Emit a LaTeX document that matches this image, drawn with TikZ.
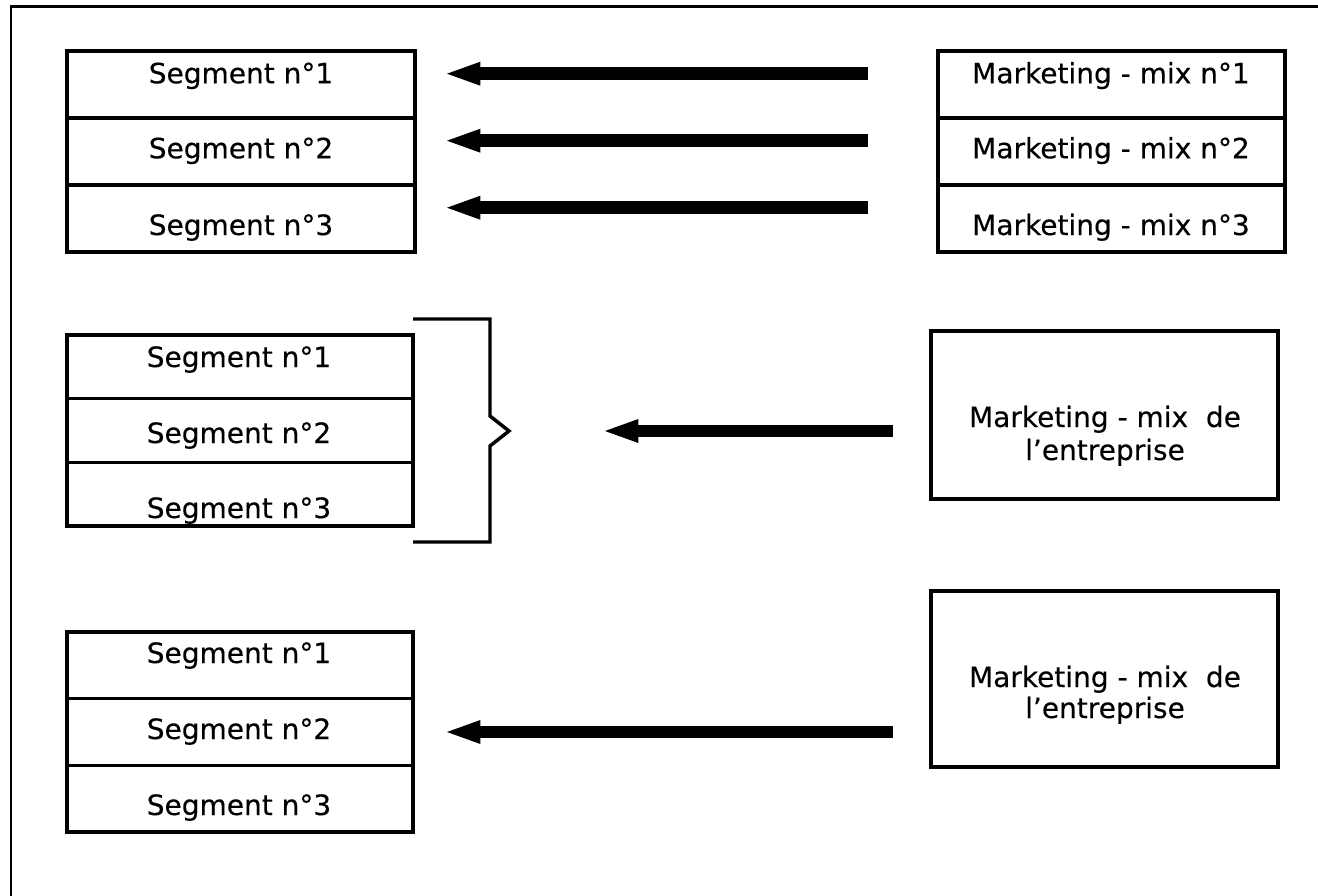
\documentclass[tikz,border=0pt]{standalone}
\usepackage{fontspec}
\setmainfont{DejaVu Sans}[FakeBold=0.3]
\usetikzlibrary{arrows.meta,calc}
\begin{document}
\begin{tikzpicture}[x=0.75pt,y=-0.75pt,
  cell/.style={draw, line width=2.6pt, inner sep=0pt, outer sep=0pt},
  lbl/.style={inner sep=0pt, anchor=base, font=\fontsize{21pt}{24pt}\selectfont},
  bigarrow/.style={line width=9.4pt, -{Triangle[length=25pt,width=18pt,line width=0pt]}},
  brace/.style={line width=2.6pt, line join=miter}]
\useasboundingbox (0,0) rectangle (1318,896);
% page frame
\draw[line width=2pt] (11,896) -- (11,6.5) -- (1318,6.5);

% --- one marketing-mix per segment ---
\foreach \i/\y in {1/84.5,2/151.5,3/218.5}{
  \node[cell, minimum width=261pt, minimum height=50.25pt] (a\i) at (241,\y) {};
  \node[cell, minimum width=260.25pt, minimum height=50.25pt] (b\i) at (1111.5,\y) {};
}
\node[lbl] (ta1) at (241,83.3) {Segment n°1};
\node[lbl] (ta2) at (241,158.3) {Segment n°2};
\node[lbl] (ta3) at (241,235) {Segment n°3};
\node[lbl] (tb1) at (1111,83.3) {Marketing - mix n°1};
\node[lbl] (tb2) at (1111,158.3) {Marketing - mix n°2};
\node[lbl] (tb3) at (1111,235) {Marketing - mix n°3};
\foreach \i in {1,2,3}
  \draw[bigarrow] ($(b\i.west)+(-70,-10.8)$) -- ($(a\i.east)+(32,-10.8)$);

% --- one marketing-mix for all segments ---
\foreach \i/\y in {1/366.8,2/430.5,3/494.2}
  \node[cell, minimum width=259.5pt, minimum height=47.75pt] (c\i) at (240,\y) {};
\node[lbl] (tc1) at (239,367) {Segment n°1};
\node[lbl] (tc2) at (239,443) {Segment n°2};
\node[lbl] (tc3) at (239,518) {Segment n°3};
\draw[brace] (413,319) -- (490,319) -- (490,416) -- (509,431) coordinate (bt)
  -- (490,446) -- (490,542) -- (413,542);
\node[cell, minimum width=260.25pt, minimum height=126pt] (d) at (1104.5,415) {};
\node[lbl] (td1) at (1105,427) {Marketing - mix\ \ de};
\node[lbl] (td2) at (1105,460) {l’entreprise};
\draw[bigarrow] ($(d.west)+(-38,16)$) -- ($(bt)+(96,0)$);

% --- one marketing-mix aimed at a single segment ---
\foreach \i/\y in {1/665.3,2/732,3/798.7}
  \node[cell, minimum width=259.5pt, minimum height=50pt] (e\i) at (240,\y) {};
\node[lbl] (te1) at (239,663) {Segment n°1};
\node[lbl] (te2) at (239,739) {Segment n°2};
\node[lbl] (te3) at (239,815) {Segment n°3};
\node[cell, minimum width=260.25pt, minimum height=132pt] (f) at (1104.5,679) {};
\node[lbl] (tf1) at (1105,687) {Marketing - mix\ \ de};
\node[lbl] (tf2) at (1105,718) {l’entreprise};
\draw[bigarrow] ($(f.west)+(-38,53)$) -- ($(e2.east)+(34,0)$);
\end{tikzpicture}
\end{document}
